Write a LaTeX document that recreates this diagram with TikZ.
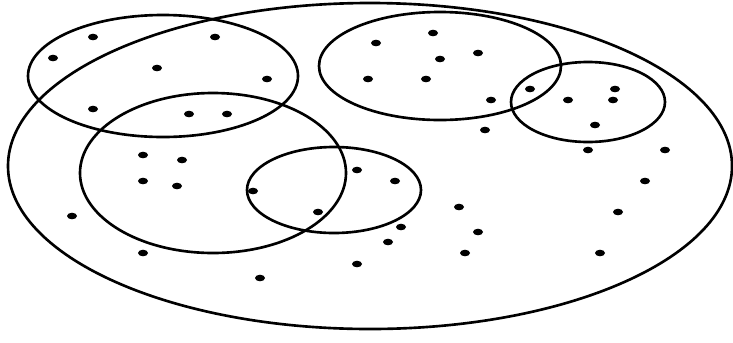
\documentclass[tikz,border=0pt]{standalone}
\tikzset{
  setline/.style={black, line width=1.5pt},
  pt/.style={black}
}

\begin{document}
\begin{tikzpicture}[x=0.02cm, y=-0.02cm]

% Frame
\useasboundingbox (0,0) rectangle (733,342);

% Universe
\draw[setline] (370,166) ellipse [x radius=362, y radius=163];

% Subsets
\draw[setline] (163,76)  ellipse [x radius=135, y radius=61];
\draw[setline] (213,173) ellipse [x radius=133, y radius=80];
\draw[setline] (334,190) ellipse [x radius=87,  y radius=43];
\draw[setline] (440,66)  ellipse [x radius=121, y radius=54];
\draw[setline] (588,102) ellipse [x radius=77,  y radius=40];

% Points
\foreach \px/\py in {93/37, 215/37, 53/58, 157/68, 267/79, 93/109, 189/114, 227/114,
                     143/155, 182/160, 357/170,
                     433/33, 376/43, 478/53, 440/59, 368/79, 426/79, 530/89, 615/89,
                     491/100, 568/100, 613/100, 595/125, 485/130, 588/150, 665/150,
                     143/181, 177/186, 253/191, 72/216, 318/212, 143/253, 260/278, 357/264,
                     395/181, 645/181, 459/207, 618/212, 401/227, 478/232, 388/242,
                     465/253, 600/253} {
  \fill[pt] (\px,\py) ellipse [x radius=5, y radius=3.3];
}

\end{tikzpicture}
\end{document}
